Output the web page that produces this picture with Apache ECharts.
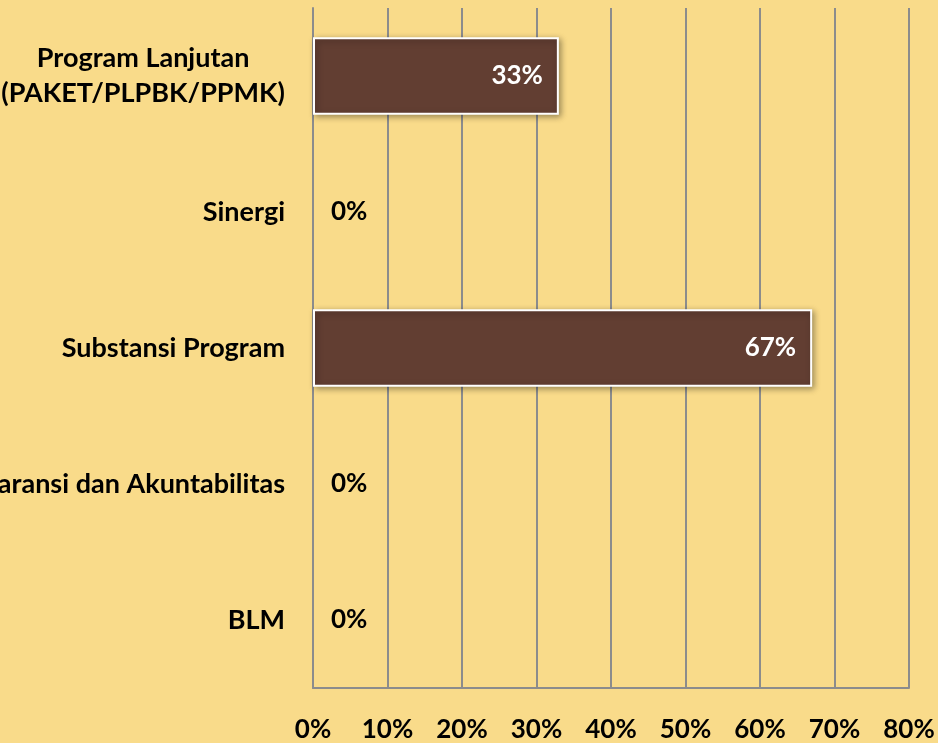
<!DOCTYPE html>
<html>
<head>
<meta charset="utf-8">
<script src="https://cdn.jsdelivr.net/npm/echarts@6/dist/echarts.min.js"></script>
<style>
html,body{margin:0;padding:0;background:#F9DB8A;}
#c{width:938px;height:743px;}
</style>
</head>
<body>
<div id="c"></div>
<script>
var categories = ['BLM', 'Transparansi dan Akuntabilitas', 'Substansi Program', 'Sinergi', 'Program Lanjutan\n(PAKET/PLPBK/PPMK)'];
var values = [0, 0, 67, 0, 33];
var tickLabels = ['0%', '10%', '20%', '30%', '40%', '50%', '60%', '70%', '80%'];

var FONT = 'Lato';
var chart = echarts.init(document.getElementById('c'));
var data = values.map(function (v) {
  if (v === 0) {
    return {
      value: v,
      itemStyle: { borderWidth: 0, shadowBlur: 0, shadowOffsetX: 0, shadowOffsetY: 0, shadowColor: 'transparent' },
      label: { position: 'right', color: '#000', distance: 18 }
    };
  }
  return { value: v };
});
chart.setOption({
  backgroundColor: '#F9DB8A',
  animation: false,
  grid: { left: 313, right: 29, top: 8, bottom: 55, containLabel: false, outerBoundsMode: 'none' },
  xAxis: {
    type: 'value', min: 0, max: 80, interval: 10,
    axisLine: { show: true, lineStyle: { color: '#8C8C8C', width: 2 } },
    axisTick: { show: false },
    splitLine: { show: true, lineStyle: { color: '#8C8C8C', width: 2 } },
    axisLabel: {
      margin: 29, hideOverlap: false,
      fontFamily: FONT, fontWeight: 'bold', fontSize: 26, color: '#000',
      formatter: function (v) { return tickLabels[Math.round(v / 10)]; }
    }
  },
  yAxis: {
    type: 'category', data: categories,
    axisLine: { show: true, lineStyle: { color: '#8C8C8C', width: 2 } },
    axisTick: { show: false },
    axisLabel: {
      margin: 28, align: 'right',
      fontFamily: FONT, fontWeight: 'bold', fontSize: 27, color: '#000', lineHeight: 35,
      formatter: function (v) {
        return v.split('\n').map(function (s) { return '{c|' + s + '}'; }).join('\n');
      },
      rich: {
        c: { align: 'center', fontFamily: FONT, fontWeight: 'bold', fontSize: 27, color: '#000', lineHeight: 35 }
      }
    }
  },
  series: [{
    type: 'bar', data: data, barWidth: '57%',
    itemStyle: {
      color: '#623E32', borderColor: '#FFFFFF', borderWidth: 2,
      shadowColor: 'rgba(0,0,0,0.35)', shadowBlur: 6, shadowOffsetX: 2, shadowOffsetY: 2
    },
    label: {
      show: true, position: 'insideRight', distance: 16,
      fontFamily: FONT, fontWeight: 'bold', fontSize: 26, color: '#FFFFFF',
      formatter: function (p) { return p.value + '%'; }
    }
  }]
});
</script>
</body>
</html>
